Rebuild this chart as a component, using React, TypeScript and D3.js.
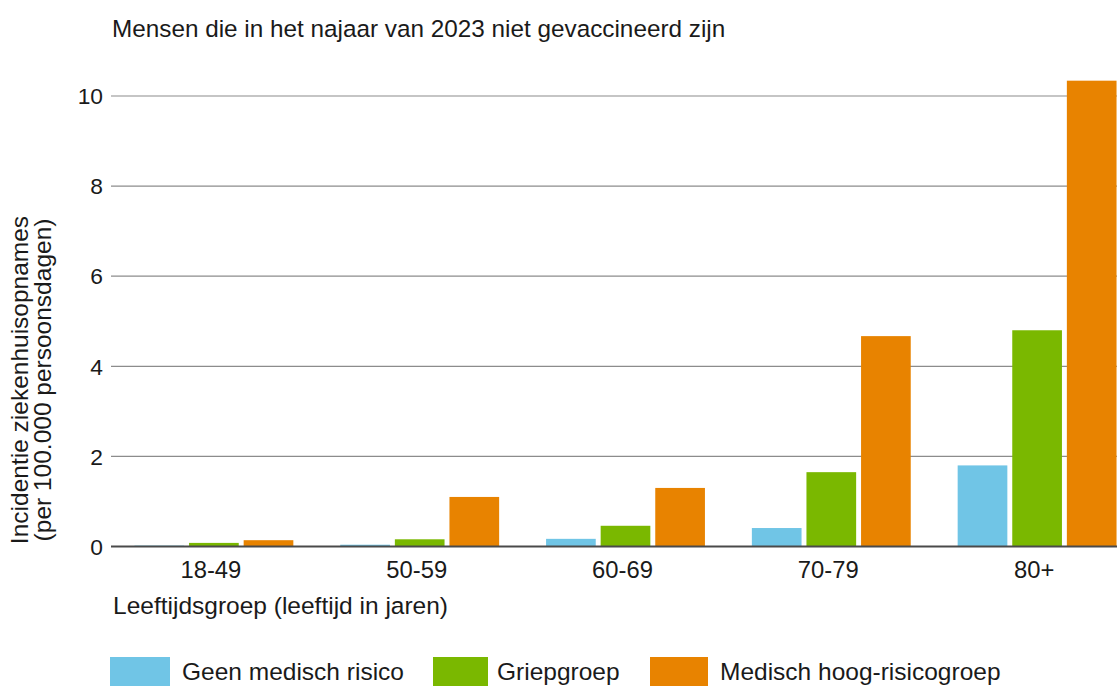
import * as d3 from "d3";
import { useEffect, useRef } from "react";

const ageGroups = ["18-49", "50-59", "60-69", "70-79", "80+"];
const seriesNames = ["Geen medisch risico", "Griepgroep", "Medisch hoog-risicogroep"];
const geenRisico = [0.02, 0.04, 0.17, 0.41, 1.8];
const griepgroep = [0.08, 0.16, 0.46, 1.65, 4.8];
const hoogRisico = [0.14, 1.1, 1.3, 4.67, 10.34];
const colors = ["#70c5e6", "#7ab800", "#e88300"];
const yTicks = [0, 2, 4, 6, 8, 10];

const W = 1117;
const H = 686;
const FONT = "'Liberation Sans', Arial, sans-serif";

export default function App() {
    const ref = useRef<SVGSVGElement>(null);

    useEffect(() => {
        const svg = d3.select(ref.current);
        svg.selectAll("*").remove();

        const margin = { top: 96, left: 111, bottom: 546.5 };
        const values = [geenRisico, griepgroep, hoogRisico];

        // scales
        const x = d3.scaleBand<string>()
            .domain(ageGroups)
            .range([margin.left, 1140])
            .paddingInner(0.228)
            .paddingOuter(0.114);

        const xSub = d3.scaleBand<number>()
            .domain([0, 1, 2])
            .range([0, x.bandwidth()])
            .paddingInner(0.09);

        const y = d3.scaleLinear()
            .domain([0, 10])
            .range([margin.bottom, margin.top]);

        // title
        svg.append("text")
            .attr("x", 112)
            .attr("y", 37)
            .attr("font-size", 24.3)
            .attr("fill", "#1a1a1a")
            .text("Mensen die in het najaar van 2023 niet gevaccineerd zijn");

        // gridlines
        svg.append("g")
            .selectAll("line")
            .data(yTicks.filter(d => d > 0))
            .join("line")
            .attr("x1", margin.left)
            .attr("x2", W)
            .attr("y1", d => y(d))
            .attr("y2", d => y(d))
            .attr("stroke", "#8c8c8c")
            .attr("stroke-width", 1.2);

        // y tick labels
        svg.append("g")
            .selectAll("text")
            .data(yTicks)
            .join("text")
            .attr("x", 103)
            .attr("y", d => y(d))
            .attr("dy", "0.36em")
            .attr("text-anchor", "end")
            .attr("font-size", 22.8)
            .attr("fill", "#1a1a1a")
            .text(d => d);

        // bars
        const groups = svg.append("g")
            .selectAll("g")
            .data(ageGroups)
            .join("g")
            .attr("transform", d => `translate(${x(d)},0)`);

        groups.selectAll("rect")
            .data((_, i) => values.map((s, k) => ({ k, v: s[i] })))
            .join("rect")
            .attr("x", d => xSub(d.k)!)
            .attr("width", xSub.bandwidth())
            .attr("y", d => y(d.v))
            .attr("height", d => y(0) - y(d.v))
            .attr("fill", d => colors[d.k]);

        // baseline
        svg.append("line")
            .attr("x1", margin.left)
            .attr("x2", W)
            .attr("y1", y(0))
            .attr("y2", y(0))
            .attr("stroke", "#4a4a4a")
            .attr("stroke-width", 2);

        // x labels
        svg.append("g")
            .selectAll("text")
            .data(ageGroups)
            .join("text")
            .attr("x", d => x(d)! + x.bandwidth() / 2 - 3)
            .attr("y", 578)
            .attr("text-anchor", "middle")
            .attr("font-size", 23.8)
            .attr("fill", "#1a1a1a")
            .text(d => d);

        svg.append("text")
            .attr("x", 113)
            .attr("y", 614)
            .attr("font-size", 24.5)
            .attr("fill", "#1a1a1a")
            .text("Leeftijdsgroep (leeftijd in jaren)");

        // y axis title
        const yt = svg.append("text")
            .attr("transform", "translate(0,380) rotate(-90)")
            .attr("text-anchor", "middle")
            .attr("font-size", 24.5)
            .attr("fill", "#1a1a1a");
        yt.append("tspan").attr("x", 0).attr("y", 28).text("Incidentie ziekenhuisopnames");
        yt.append("tspan").attr("x", 0).attr("y", 51).text("(per 100.000 persoonsdagen)");

        // legend
        const legendX = [110, 433, 650];
        const leg = svg.append("g")
            .selectAll("g")
            .data(seriesNames)
            .join("g")
            .attr("transform", (_, i) => `translate(${legendX[i]},657)`);
        leg.append("rect")
            .attr("width", (_, i) => [60, 55, 58][i])
            .attr("height", 32)
            .attr("fill", (_, i) => colors[i]);
        leg.append("text")
            .attr("x", (_, i) => [72, 64, 70][i])
            .attr("y", 23)
            .attr("font-size", 24.5)
            .attr("fill", "#1a1a1a")
            .text(d => d);
    }, []);

    return (
        <svg ref={ref} width={W} height={H}
            style={{ position: "absolute", left: 0, top: 0, fontFamily: FONT, background: "#fff" }} />
    );
}
